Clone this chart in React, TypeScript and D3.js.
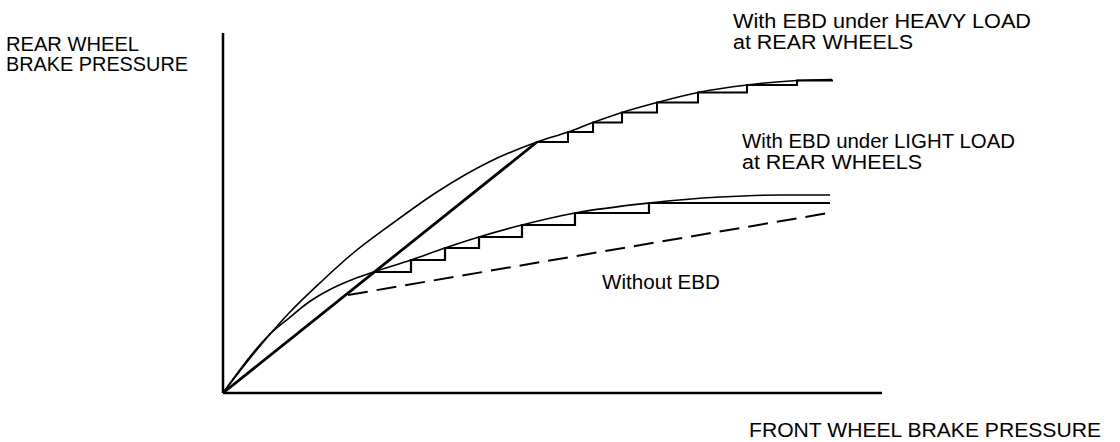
import React from "react";
import * as d3 from "d3";

// Domain units: front pressure 0..100, rear pressure 0..100
const heavyCurveX = [0, 4.86, 10.02, 15.02, 19.58, 25.8, 32.47, 40.06, 47.65, 52.35, 56.15, 60.55, 65.86, 72.08, 79.51, 87.1, 92.41];
const heavyCurveY = [0, 11.39, 22.22, 31.11, 38.61, 47.22, 55.83, 63.89, 69.72, 72.5, 75.14, 77.92, 80.69, 83.47, 85.56, 86.81, 87.08];

const lightCurveX = [0, 6.98, 10.02, 13.05, 16.54, 20.03, 22.61, 28.53, 33.69, 38.85, 45.37, 53.41, 64.64, 75.42, 84.52, 92.11];
const lightCurveY = [0, 16.11, 20.83, 25.28, 29.03, 31.81, 33.47, 36.94, 40.28, 43.33, 46.67, 50.0, 52.78, 54.44, 55.0, 55.0];

const heavyStepX = [47.65, 52.35, 56.15, 60.55, 65.86, 72.08, 79.51, 87.1, 92.41];
const heavyStepY = [69.72, 72.5, 75.14, 77.92, 80.69, 83.47, 85.56, 86.81, 87.08];

const lightStepX = [23.06, 28.53, 33.69, 38.85, 45.37, 53.41, 64.64, 92.11];
const lightStepY = [33.61, 36.94, 40.28, 43.33, 46.67, 50.0, 52.78, 52.78];

const thickLineX = [0, 47.65];
const thickLineY = [0, 69.72];

const noEbdX = [18.97, 92.11];
const noEbdY = [27.22, 50.08];

const yTitle = ["REAR WHEEL", "BRAKE PRESSURE"];
const xTitle = "FRONT WHEEL BRAKE PRESSURE";
const heavyLabel = ["With EBD under HEAVY LOAD", "at REAR WHEELS"];
const lightLabel = ["With EBD under LIGHT LOAD", "at REAR WHEELS"];
const noEbdLabel = "Without EBD";

const W = 1120;
const H = 442;

export default function App() {
  const x = d3.scaleLinear().domain([0, 100]).range([223, 882]);
  const y = d3.scaleLinear().domain([0, 100]).range([393, 33]);

  const pts = (xs: number[], ys: number[]) => xs.map((v, i) => [v, ys[i]] as [number, number]);

  const smooth = d3
    .line<[number, number]>()
    .x((d) => x(d[0]))
    .y((d) => y(d[1]))
    .curve(d3.curveMonotoneX);
  const straight = d3
    .line<[number, number]>()
    .x((d) => x(d[0]))
    .y((d) => y(d[1]));
  const step = d3
    .line<[number, number]>()
    .x((d) => x(d[0]))
    .y((d) => y(d[1]))
    .curve(d3.curveStepAfter);

  const font = "'Liberation Sans', Arial, Helvetica, sans-serif";
  const fs = 20;

  return (
    <svg
      width={W}
      height={H}
      style={{ position: "absolute", left: 0, top: 0, background: "#fff" }}
      fontFamily={font}
    >
      <rect width={W} height={H} fill="#fff" />
      {/* axes */}
      <line x1={x(0)} y1={y(0)} x2={x(0)} y2={y(100)} stroke="#000" strokeWidth={2.5} />
      <line x1={x(0)} y1={y(0)} x2={x(100)} y2={y(0)} stroke="#000" strokeWidth={2.5} />

      {/* ideal curves */}
      <path d={smooth(pts(heavyCurveX, heavyCurveY)) || ""} fill="none" stroke="#000" strokeWidth={1.6} />
      <path d={smooth(pts(lightCurveX, lightCurveY)) || ""} fill="none" stroke="#000" strokeWidth={1.6} />

      {/* EBD straight line */}
      <path d={straight(pts(thickLineX, thickLineY)) || ""} fill="none" stroke="#000" strokeWidth={2.8} />

      {/* stepped control */}
      <path d={step(pts(heavyStepX, heavyStepY)) || ""} fill="none" stroke="#000" strokeWidth={2} />
      <path d={step(pts(lightStepX, lightStepY)) || ""} fill="none" stroke="#000" strokeWidth={2.2} />

      {/* without EBD */}
      <path
        d={straight(pts(noEbdX, noEbdY)) || ""}
        fill="none"
        stroke="#000"
        strokeWidth={2}
        strokeDasharray="20 9"
      />

      {/* texts */}
      <g fontSize={fs} fill="#000">
        <text x={6} y={50.5} textLength={133} lengthAdjust="spacingAndGlyphs">{yTitle[0]}</text>
        <text x={6} y={70.5} textLength={182} lengthAdjust="spacingAndGlyphs">{yTitle[1]}</text>
        <text x={749} y={436.5} textLength={352} lengthAdjust="spacingAndGlyphs">{xTitle}</text>
        <text x={733} y={27.5} textLength={298} lengthAdjust="spacingAndGlyphs">{heavyLabel[0]}</text>
        <text x={733} y={48.5} textLength={180} lengthAdjust="spacingAndGlyphs">{heavyLabel[1]}</text>
        <text x={742} y={147.5} textLength={273} lengthAdjust="spacingAndGlyphs">{lightLabel[0]}</text>
        <text x={742} y={168.5} textLength={180} lengthAdjust="spacingAndGlyphs">{lightLabel[1]}</text>
        <text x={602} y={288.5} textLength={118} lengthAdjust="spacingAndGlyphs">{noEbdLabel}</text>
      </g>
    </svg>
  );
}
